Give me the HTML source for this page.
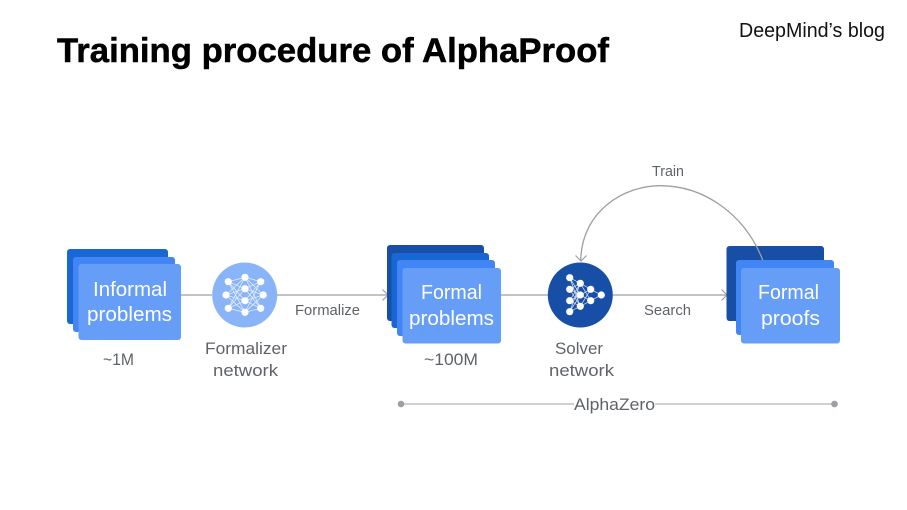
<!DOCTYPE html>
<html>
<head>
<meta charset="utf-8">
<style>
html,body{margin:0;padding:0;background:#fff;width:907px;height:510px;overflow:hidden}
svg{display:block}
text{font-family:"Liberation Sans",sans-serif}
.w{fill:#fff;font-size:20.5px}
.g{fill:#5f6368;font-size:17px}
.s{fill:#5f6368;font-size:14.5px}
</style>
</head>
<body>
<svg width="907" height="510" viewBox="0 0 907 510" xmlns="http://www.w3.org/2000/svg">
<rect width="907" height="510" fill="#fff"/>
<text x="57" y="62" font-size="34.5" font-weight="700" fill="#000" stroke="#000" stroke-width="0.5" textLength="552" lengthAdjust="spacingAndGlyphs">Training procedure of AlphaProof</text>
<text x="739" y="37" font-size="20.5" fill="#111" textLength="146" lengthAdjust="spacingAndGlyphs">DeepMind’s blog</text>

<!-- connectors -->
<g fill="none" stroke="#9aa0a6" stroke-width="1.2">
<path d="M181 295H212M277 295H388M501 295H548M613 295H727"/>
<path d="M382.500 289.500L388 295L382.500 300.500M721.500 289.500L727 295L721.500 300.500"/>
<path d="M575.500 255.500L581 261L586.500 255.500"/>
</g>

<!-- Informal stack -->
<rect x="67" y="249" width="101" height="75" rx="3" fill="#1967d2"/>
<rect x="73" y="257" width="102" height="75" rx="3" fill="#4285f4"/>
<rect x="78.500" y="264" width="102.500" height="76" rx="3" fill="#669df6"/>
<text class="w" x="93" y="296" textLength="74" lengthAdjust="spacingAndGlyphs">Informal</text>
<text class="w" x="87" y="321" textLength="85" lengthAdjust="spacingAndGlyphs">problems</text>
<text class="g" x="103" y="365" textLength="31" lengthAdjust="spacingAndGlyphs">~1M</text>

<!-- Formalizer -->
<circle cx="244.700" cy="295" r="32.500" fill="#8ab4f8"/>
<path fill="none" stroke="#fff" stroke-opacity="0.75" stroke-width="0.8" d="M228.300 281.700L245 277.300M228.300 281.700L245 288.700M228.300 281.700L245 300.700M228.300 281.700L245 312.300M226 295L245 277.300M226 295L245 288.700M226 295L245 300.700M226 295L245 312.300M228.300 308.300L245 277.300M228.300 308.300L245 288.700M228.300 308.300L245 300.700M228.300 308.300L245 312.300M260.700 281.700L245 277.300M260.700 281.700L245 288.700M260.700 281.700L245 300.700M260.700 281.700L245 312.300M263.300 295L245 277.300M263.300 295L245 288.700M263.300 295L245 300.700M263.300 295L245 312.300M260.700 308.300L245 277.300M260.700 308.300L245 288.700M260.700 308.300L245 300.700M260.700 308.300L245 312.300"/>
<g fill="#fff">
<circle cx="228.300" cy="281.700" r="3.600"/><circle cx="226" cy="295" r="3.600"/><circle cx="228.300" cy="308.300" r="3.600"/>
<circle cx="245" cy="277.300" r="3.600"/><circle cx="245" cy="288.700" r="3.600"/><circle cx="245" cy="300.700" r="3.600"/><circle cx="245" cy="312.300" r="3.600"/>
<circle cx="260.700" cy="281.700" r="3.600"/><circle cx="263.300" cy="295" r="3.600"/><circle cx="260.700" cy="308.300" r="3.600"/>
</g>
<text class="g" x="205" y="354" textLength="82" lengthAdjust="spacingAndGlyphs">Formalizer</text>
<text class="g" x="213" y="376" textLength="65" lengthAdjust="spacingAndGlyphs">network</text>
<text class="s" x="295" y="315" textLength="65" lengthAdjust="spacingAndGlyphs">Formalize</text>

<!-- Formal problems stack -->
<rect x="387" y="245" width="97" height="76" rx="3" fill="#174ea6"/>
<rect x="391.500" y="253" width="97.500" height="75" rx="3" fill="#1967d2"/>
<rect x="397" y="260" width="98" height="76" rx="3" fill="#4285f4"/>
<rect x="402.500" y="268" width="98.500" height="75.500" rx="3" fill="#669df6"/>
<text class="w" x="421" y="299" textLength="61" lengthAdjust="spacingAndGlyphs">Formal</text>
<text class="w" x="409" y="325" textLength="85" lengthAdjust="spacingAndGlyphs">problems</text>
<text class="g" x="424" y="365" textLength="54" lengthAdjust="spacingAndGlyphs">~100M</text>

<!-- Solver -->
<circle cx="580.300" cy="295" r="32.500" fill="#174ea6"/>
<path fill="none" stroke="#fff" stroke-opacity="0.8" stroke-width="0.8" d="M569.700 277.700L580.300 283.300M569.700 277.700L580.300 295M569.700 277.700L580.300 306.300M569.700 289.300L580.300 283.300M569.700 289.300L580.300 295M569.700 289.300L580.300 306.300M569.700 300.700L580.300 283.300M569.700 300.700L580.300 295M569.700 300.700L580.300 306.300M569.700 311.700L580.300 283.300M569.700 311.700L580.300 295M569.700 311.700L580.300 306.300M580.300 283.300L590.700 289.300M580.300 283.300L590.700 300.700M580.300 295L590.700 289.300M580.300 295L590.700 300.700M580.300 306.300L590.700 289.300M580.300 306.300L590.700 300.700M590.700 289.300L601.300 295M590.700 300.700L601.300 295"/>
<g fill="#fff">
<circle cx="569.700" cy="277.700" r="3.600"/><circle cx="569.700" cy="289.300" r="3.600"/><circle cx="569.700" cy="300.700" r="3.600"/><circle cx="569.700" cy="311.700" r="3.600"/>
<circle cx="580.300" cy="283.300" r="3.600"/><circle cx="580.300" cy="295" r="3.600"/><circle cx="580.300" cy="306.300" r="3.600"/>
<circle cx="590.700" cy="289.300" r="3.600"/><circle cx="590.700" cy="300.700" r="3.600"/>
<circle cx="601.300" cy="295" r="3.600"/>
</g>
<text class="g" x="555" y="354" textLength="48" lengthAdjust="spacingAndGlyphs">Solver</text>
<text class="g" x="549" y="376" textLength="65" lengthAdjust="spacingAndGlyphs">network</text>
<text class="s" x="644" y="315" textLength="47" lengthAdjust="spacingAndGlyphs">Search</text>
<text class="s" x="652" y="176" textLength="32" lengthAdjust="spacingAndGlyphs">Train</text>

<!-- Formal proofs stack -->
<rect x="726.500" y="246" width="97.500" height="75" rx="3" fill="#174ea6"/>
<path d="M762.700 260C745 215 705 185.700 660 185.700C625 185.700 582 210 580.700 260" fill="none" stroke="#9aa0a6" stroke-width="1.300"/>
<rect x="736" y="260" width="98" height="75" rx="3" fill="#4285f4"/>
<rect x="741" y="268" width="99" height="75.500" rx="3" fill="#669df6"/>
<text class="w" x="758" y="299" textLength="61" lengthAdjust="spacingAndGlyphs">Formal</text>
<text class="w" x="761" y="325" textLength="59" lengthAdjust="spacingAndGlyphs">proofs</text>

<!-- AlphaZero range -->
<path d="M401 404H574M655 404H835" stroke="#bdc1c6" stroke-width="1.600" fill="none"/>
<circle cx="401" cy="404" r="3.300" fill="#9aa0a6"/>
<circle cx="834.500" cy="404" r="3.300" fill="#9aa0a6"/>
<text class="g" x="574" y="410" textLength="81" lengthAdjust="spacingAndGlyphs">AlphaZero</text>
</svg>
</body>
</html>
